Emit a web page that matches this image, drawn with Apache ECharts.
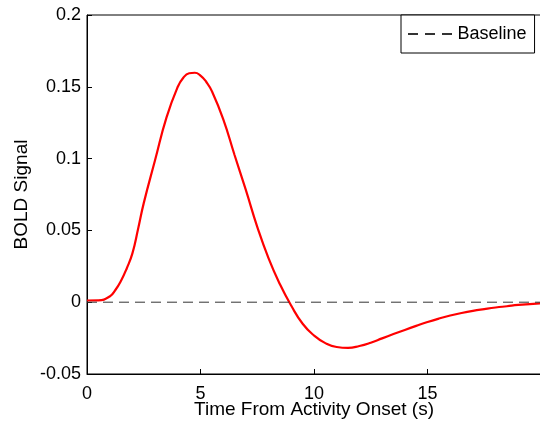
<!DOCTYPE html>
<html>
<head>
<meta charset="utf-8">
<script src="https://cdn.jsdelivr.net/npm/echarts@6/dist/echarts.min.js"></script>
<style>
html,body{margin:0;padding:0;background:#fff;}
#chart{width:540px;height:424px;}
</style>
</head>
<body>
<div id="chart"></div>
<script>
// Time (s)
const timeValues = [0,0.5,1,1.25,1.5,1.75,2,2.25,2.5,3,3.5,4,4.25,4.5,4.75,5,5.25,5.5,6,6.5,7,7.5,8,8.5,9,9.5,10,10.5,11,11.5,12,12.5,13,13.5,14,14.5,15,15.5,16,16.5,17,17.5,18,18.5,19,19.5,20];
// BOLD signal
const boldValues = [0.0012,0.0013,0.0040,0.0085,0.0150,0.0235,0.0340,0.0510,0.0690,0.0990,0.1285,0.1500,0.1565,0.1594,0.1598,0.1578,0.1535,0.1470,0.1275,0.1025,0.0780,0.0525,0.0305,0.0125,-0.0025,-0.0150,-0.0232,-0.0285,-0.0312,-0.0318,-0.0305,-0.0282,-0.0252,-0.0222,-0.0193,-0.0165,-0.0138,-0.0114,-0.0093,-0.0075,-0.0060,-0.0048,-0.0037,-0.0028,-0.0019,-0.0013,-0.0008];
const baselineTimes = [0,20];
const baselineValues = [0,0];
const xTicks = [0,5,10,15];
const yTicks = [-0.05,0,0.05,0.1,0.15,0.2];

const FONT = "'Liberation Sans', Arial, sans-serif";
const chart = echarts.init(document.getElementById('chart'));
chart.setOption({
  animation: false,
  backgroundColor: '#fff',
  grid: {left: 87, top: 15, right: -1, bottom: 50, outerBoundsMode: 'none', containLabel: false,
    show: true, borderColor: '#000', borderWidth: 1, backgroundColor: 'transparent'},
  legend: {
    data: ['Baseline'],
    left: 401, top: 15,
    padding: [10, 8, 10, 7],
    itemWidth: 45, itemHeight: 2,
    icon: 'path://M0,0h10v2h-10z M17,0h10v2h-10z M34,0h10v2h-10z',
    borderColor: '#000', borderWidth: 1, backgroundColor: '#fff',
    itemStyle: {color: '#333'},
    textStyle: {fontFamily: FONT, fontSize: 18, color: '#000'}
  },
  xAxis: {
    type: 'value', min: 0, max: 20, interval: 5,
    name: 'Time From Activity Onset (s)', nameLocation: 'middle', nameGap: 26,
    nameMoveOverlap: false,
    nameTextStyle: {fontFamily: FONT, fontSize: 19, color: '#000'},
    axisLine: {show: true, onZero: false, lineStyle: {color: '#000', width: 1}},
    axisTick: {show: true, inside: true, length: 5, lineStyle: {color: '#000'}},
    axisLabel: {margin: 11, fontFamily: FONT, fontSize: 18, color: '#000',
      formatter: v => xTicks.includes(v) ? String(v) : ''},
    splitLine: {show: false}
  },
  yAxis: {
    type: 'value', min: -0.05, max: 0.2, interval: 0.05,
    name: 'BOLD Signal', nameLocation: 'middle', nameGap: 56, nameRotate: 90,
    nameMoveOverlap: false,
    nameTextStyle: {fontFamily: FONT, fontSize: 19, color: '#000'},
    axisLine: {show: true, onZero: false, lineStyle: {color: '#000', width: 1}},
    axisTick: {show: true, inside: true, length: 5, lineStyle: {color: '#000'}},
    axisLabel: {margin: 6, fontFamily: FONT, fontSize: 18, color: '#000',
      formatter: v => {
        const r = Math.round(v * 100) / 100;
        const t = yTicks.find(k => Math.abs(k - r) < 1e-9);
        return t === undefined ? '' : String(t);
      }},
    splitLine: {show: false}
  },
  series: [
    {
      name: 'BOLD', type: 'line', symbol: 'none', smooth: 0.5,
      data: timeValues.map((t, i) => [t, boldValues[i]]),
      lineStyle: {color: '#ff0000', width: 2.2},
      itemStyle: {color: '#ff0000'},
      z: 2
    },
    {
      name: 'Baseline', type: 'line', symbol: 'none',
      data: baselineTimes.map((t, i) => [t, baselineValues[i]]),
      lineStyle: {color: '#333', width: 1, type: [10, 6]},
      itemStyle: {color: '#333'},
      z: 3
    }
  ]
});
</script>
</body>
</html>
